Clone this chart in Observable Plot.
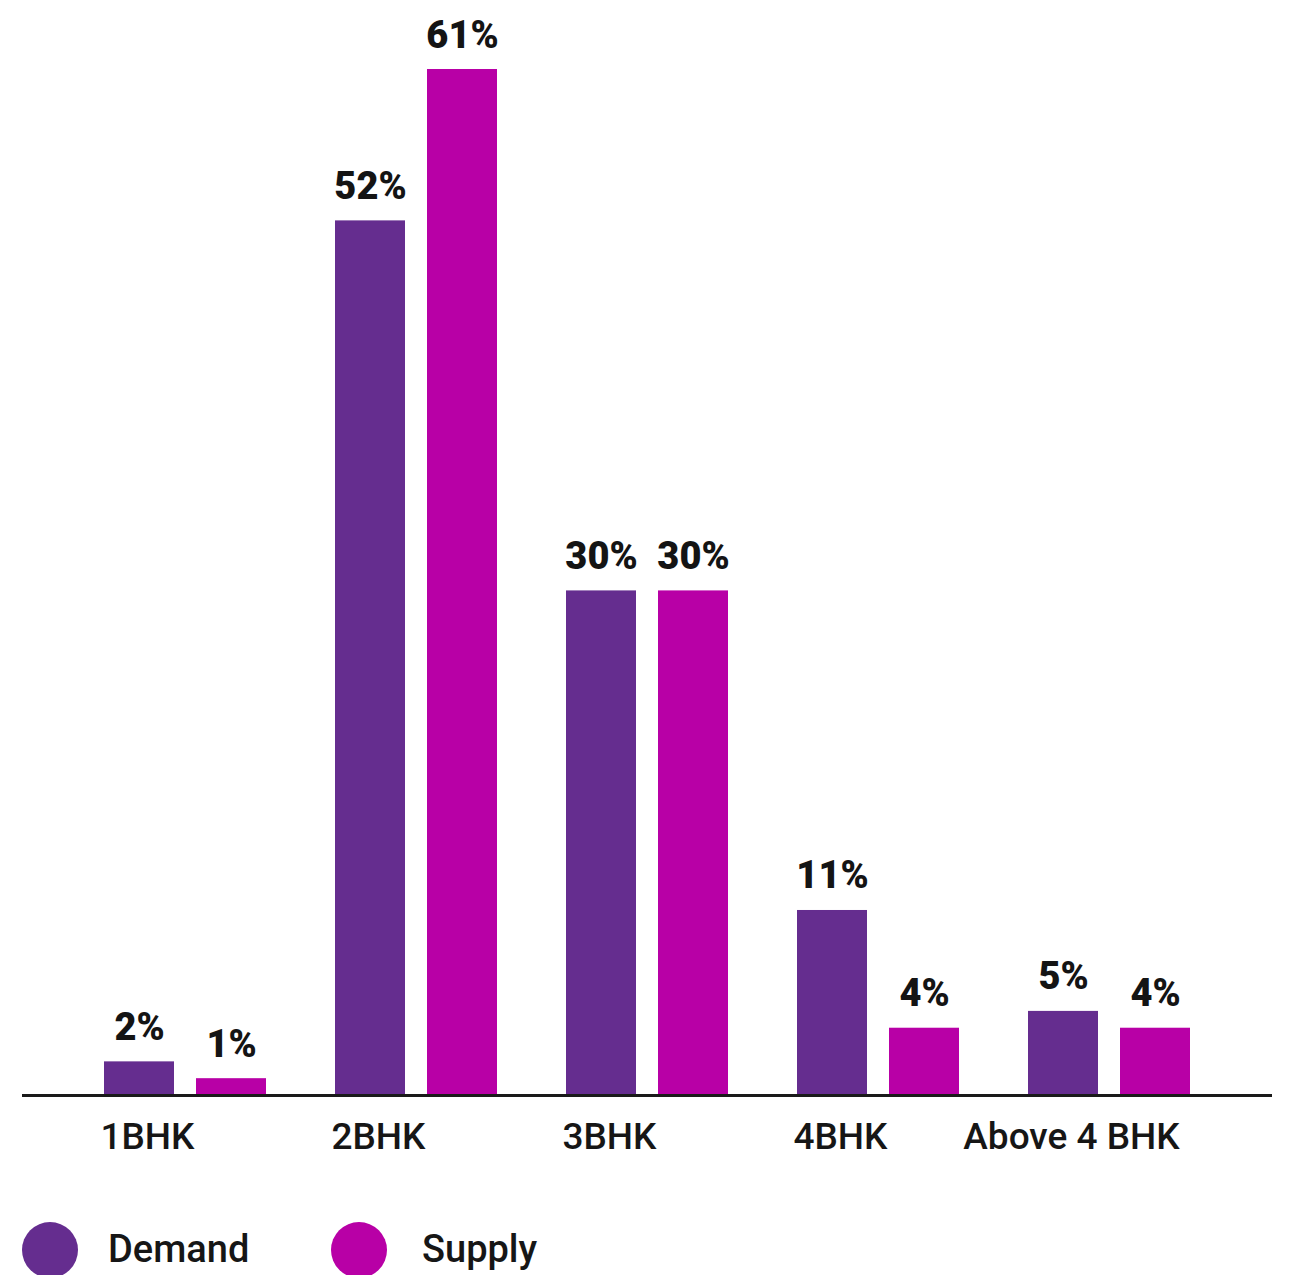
<!DOCTYPE html>
<html>
<head>
<meta charset="utf-8">
<script src="https://cdn.jsdelivr.net/npm/d3@7"></script>
<script src="https://cdn.jsdelivr.net/npm/@observablehq/plot@0.6"></script>
<style>
  body { margin: 0; background: #fff; font-family: Roboto, sans-serif; }
  #legend { position: relative; height: 95px; width: 1292px; }
  .sw { position: absolute; width: 56px; height: 56px; border-radius: 50%; top: 42px; }
  .lb { position: absolute; top: 48px; font-size: 38px; font-weight: 500; color: #161616; line-height: 42px; }
</style>
</head>
<body>
<div id="chart"></div>
<div id="legend"></div>
<script>
const categories = ["1BHK", "2BHK", "3BHK", "4BHK", "Above 4 BHK"];
const demand = [2, 52, 30, 11, 5];
const supply = [1, 61, 30, 4, 4];
const seriesNames = ["Demand", "Supply"];
const colors = ["#652d8f", "#b800a6"];

const demandData = categories.map((c, i) => ({cat: c, v: demand[i]}));
const supplyData = categories.map((c, i) => ({cat: c, v: supply[i]}));

const labelStyle = {fontSize: 38, fontWeight: 900, fill: "#141414", lineAnchor: "bottom", fontFamily: "Roboto"};

const plot = Plot.plot({
  width: 1292,
  height: 1180,
  marginTop: 69,
  marginBottom: 85,
  marginLeft: 22,
  marginRight: 20,
  style: {fontFamily: "Roboto", background: "#fff"},
  x: {domain: categories, paddingInner: 0.3, paddingOuter: 0.351, label: null},
  y: {domain: [0, 61], axis: null},
  marks: [
    Plot.barY(demandData, {x: "cat", y: "v", fill: colors[0], insetRight: 92}),
    Plot.barY(supplyData, {x: "cat", y: "v", fill: colors[1], insetLeft: 92}),
    Plot.text(demandData, {x: "cat", y: "v", text: d => d.v + "%", dx: -46, dy: -22, ...labelStyle}),
    Plot.text(supplyData, {x: "cat", y: "v", text: d => d.v + "%", dx: 46, dy: -22, ...labelStyle}),
    Plot.ruleY([0], {stroke: "#1a1a1a", strokeWidth: 3}),
    Plot.axisX({tickSize: 0, tickPadding: 27, dx: -38, fontSize: 37, fontWeight: 500, fill: "#161616", label: null})
  ]
});
document.getElementById("chart").appendChild(plot);

const legend = document.getElementById("legend");
const swLeft = [22, 331];
const lbLeft = [108, 422];
seriesNames.forEach((name, i) => {
  const s = document.createElement("div");
  s.className = "sw";
  s.style.left = swLeft[i] + "px";
  s.style.background = colors[i];
  legend.appendChild(s);
  const t = document.createElement("div");
  t.className = "lb";
  t.style.left = lbLeft[i] + "px";
  t.textContent = name;
  legend.appendChild(t);
});
</script>
</body>
</html>
